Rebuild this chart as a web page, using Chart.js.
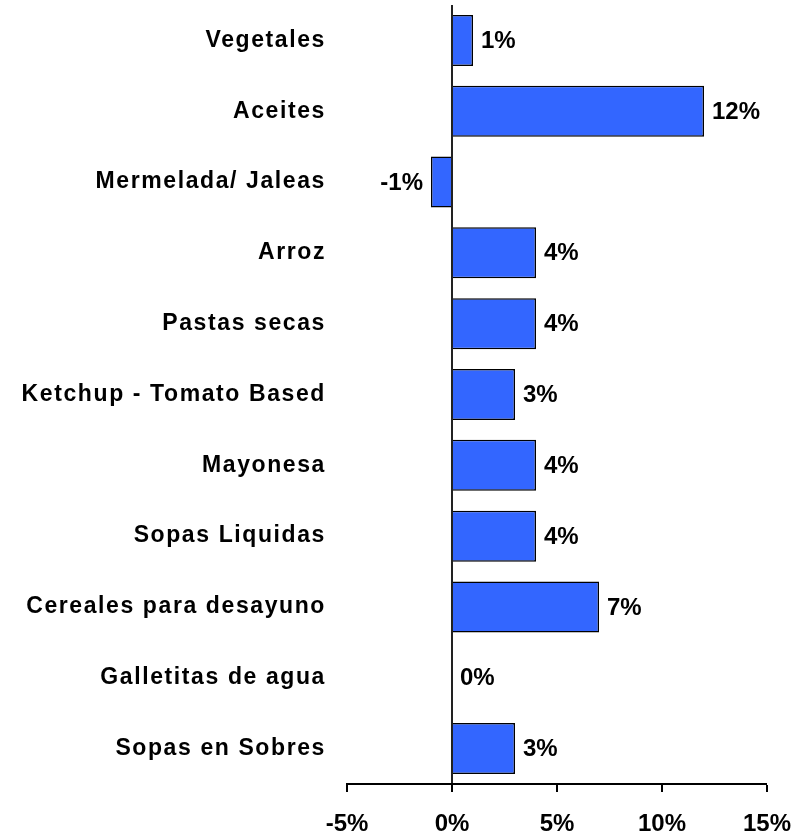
<!DOCTYPE html>
<html>
<head>
<meta charset="utf-8">
<script src="https://cdn.jsdelivr.net/npm/chart.js@4"></script>
<style>
  html, body { margin: 0; padding: 0; background: #fff; }
  #wrap { width: 812px; height: 836px; }
</style>
</head>
<body>
<div id="wrap"><canvas id="growthChart" width="812" height="836"></canvas></div>
<script>
const categories = ["Vegetales", "Aceites", "Mermelada/ Jaleas", "Arroz", "Pastas secas",
  "Ketchup - Tomato Based", "Mayonesa", "Sopas Liquidas", "Cereales para desayuno",
  "Galletitas de agua", "Sopas en Sobres"];
const growth = [1, 12, -1, 4, 4, 3, 4, 4, 7, 0, 3];
const xTicks = [-5, 0, 5, 10, 15];

const fontFamily = "'Liberation Sans', Arial, sans-serif";

// letter spacing only for the category names (drawn before the bars)
const spacing = {
  id: 'spacing',
  beforeDraw(chart) { chart.ctx.letterSpacing = '1.6px'; },
  beforeDatasetsDraw(chart) { chart.ctx.letterSpacing = '0px'; }
};

// value labels next to each bar end
const valueLabels = {
  id: 'valueLabels',
  afterDatasetsDraw(chart) {
    const ctx = chart.ctx;
    const meta = chart.getDatasetMeta(0);
    ctx.save();
    ctx.font = 'bold 24px ' + fontFamily;
    ctx.fillStyle = '#000';
    ctx.textBaseline = 'middle';
    meta.data.forEach((bar, i) => {
      const v = growth[i];
      if (v < 0) {
        ctx.textAlign = 'right';
        ctx.fillText(v + '%', bar.x - 8, bar.y + 1);
      } else {
        ctx.textAlign = 'left';
        ctx.fillText(v + '%', bar.x + 8, bar.y + 1);
      }
    });
    ctx.restore();
  }
};

const ctx = document.getElementById('growthChart').getContext('2d');
new Chart(ctx, {
  type: 'bar',
  data: {
    labels: categories,
    datasets: [{
      data: growth,
      backgroundColor: '#3366FF',
      borderColor: '#000',
      borderWidth: 1.5,
      barPercentage: 0.72,
      categoryPercentage: 1
    }]
  },
  options: {
    indexAxis: 'y',
    responsive: false,
    animation: false,
    layout: { autoPadding: false, padding: { top: 5, right: 45, left: 0, bottom: 0 } },
    plugins: { legend: { display: false }, tooltip: { enabled: false } },
    scales: {
      x: {
        min: xTicks[0],
        max: xTicks[xTicks.length - 1],
        afterBuildTicks(scale) { scale.ticks = xTicks.map(v => ({ value: v })); },
        afterFit(scale) {
          scale.height = 52;
          scale.paddingLeft = 0; scale.paddingRight = 0;
        },
        grid: {
          color: c => c.tick && c.tick.value === 0 ? '#222' : 'rgba(0,0,0,0)',
          lineWidth: c => c.tick && c.tick.value === 0 ? 2 : 0,
          drawTicks: true,
          tickLength: 8,
          tickColor: '#000',
          tickWidth: 2
        },
        border: { display: true, color: '#000', width: 2 },
        ticks: {
          z: 1,
          padding: 18,
          color: '#000',
          font: { family: fontFamily, size: 24, weight: 'bold' },
          callback: v => v + '%'
        }
      },
      y: {
        afterFit(scale) {
          scale.width = 347;
          scale.paddingTop = 0; scale.paddingBottom = 0;
        },
        grid: { display: false, drawTicks: false },
        border: { display: false },
        ticks: {
          padding: 21,
          color: '#000',
          font: { family: fontFamily, size: 23, weight: 'bold' }
        }
      }
    }
  },
  plugins: [spacing, valueLabels]
});
</script>
</body>
</html>
